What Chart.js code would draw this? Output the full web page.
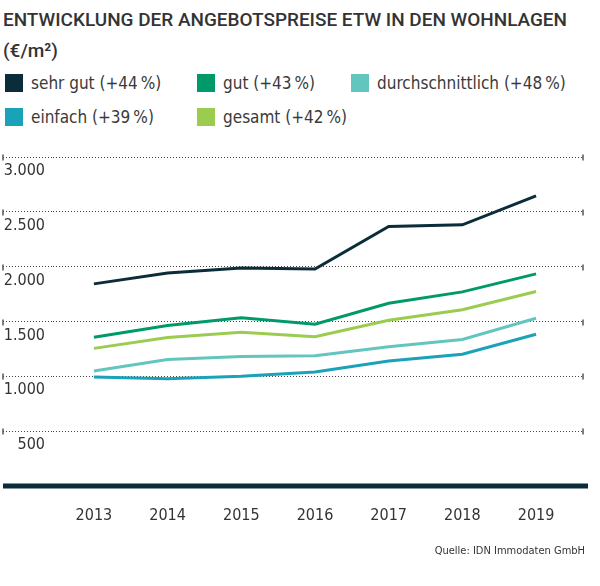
<!DOCTYPE html>
<html lang="de">
<head>
    <meta charset="UTF-8">
    <title>Entwicklung der Angebotspreise ETW in den Wohnlagen</title>
    <script src="https://cdn.jsdelivr.net/npm/chart.js"></script>
    <style>
        body { margin: 0; background: #fff; font-family: "DejaVu Sans Condensed", "DejaVu Sans", sans-serif; color: #333; }
        #wrap { position: relative; width: 600px; height: 586px; overflow: hidden; }
        #myChart { position: absolute; left: 0; top: 0; }
        h1, .unit { position: absolute; left: 3px; margin: 0; font-family: Roboto, "DejaVu Sans", sans-serif; font-size: 19px; font-weight: 500; white-space: nowrap; color: #333; transform-origin: left top; }
        h1 { top: 8px; }
        .unit { top: 39px; }
        .item { position: absolute; font-size: 17px; font-weight: normal; white-space: nowrap; line-height: 20px; color: #3a3a3a; }
        .item span { display: inline-block; width: 18px; height: 18px; vertical-align: -3px; margin-right: 8px; }
        .source { position: absolute; right: 15px; top: 544px; font-size: 11px; }
    </style>
</head>
<body>
<div id="wrap">
    <h1>ENTWICKLUNG DER ANGEBOTSPREISE ETW IN DEN WOHNLAGEN</h1>
    <div class="unit">(€/m²)</div>
    <div id="legend"></div>
    <canvas id="myChart" width="600" height="586"></canvas>
    <div class="source">Quelle: IDN Immodaten GmbH</div>
</div>

<script>
    // Jahre und Angebotspreise in €/m²
    const years = [2013, 2014, 2015, 2016, 2017, 2018, 2019];
    const sehrGut = [1843, 1943, 1988, 1979, 2366, 2382, 2645];
    const gut = [1357, 1464, 1534, 1475, 1667, 1770, 1934];
    const durchschnittlich = [1048, 1153, 1181, 1188, 1270, 1336, 1530];
    const einfach = [994, 979, 1001, 1039, 1140, 1202, 1384];
    const gesamt = [1255, 1354, 1402, 1361, 1511, 1608, 1774];

    const seriesNames = ['sehr gut', 'gut', 'durchschnittlich', 'einfach', 'gesamt'];
    const seriesChanges = ['+44 %', '+43 %', '+48 %', '+39 %', '+42 %'];
    const seriesValues = [sehrGut, gut, durchschnittlich, einfach, gesamt];
    const seriesColors = ['#0b2d3a', '#00996a', '#62c6bf', '#1aa3b8', '#9bcc50'];

    const yTicks = [0, 500, 1000, 1500, 2000, 2500, 3000];

    // Titel auf die Breite des Originals bringen
    const title = document.querySelector('h1');
    title.style.transform = 'scaleX(' + (564 / title.getBoundingClientRect().width) + ')';

    // Legende
    const legendPos = [[5, 73], [197, 73], [351, 73], [5, 107], [197, 107]];
    const legend = document.getElementById('legend');
    seriesNames.forEach((name, i) => {
        const div = document.createElement('div');
        div.className = 'item';
        div.style.left = legendPos[i][0] + 'px';
        div.style.top = legendPos[i][1] + 'px';
        div.innerHTML = '<span style="background:' + seriesColors[i] + '"></span>' +
            name + ' (' + seriesChanges[i].replace(' ', '\u2009') + ')';
        legend.appendChild(div);
    });

    function formatDe(v) {
        return String(v).replace(/\B(?=(\d{3})+(?!\d))/g, '.');
    }

    // Endstriche der Gitterlinien und dicke Grundlinie
    const decorations = {
        id: 'decorations',
        afterDraw(chart) {
            const ctx = chart.ctx;
            const yScale = chart.scales.y;
            ctx.save();
            ctx.strokeStyle = '#555';
            ctx.lineWidth = 1.5;
            yTicks.forEach(t => {
                if (t === 0) return;
                const y = Math.round(yScale.getPixelForValue(t)) + 0.5;
                [3, chart.chartArea.right].forEach(x => {
                    ctx.beginPath();
                    ctx.moveTo(x, y - 3);
                    ctx.lineTo(x, y + 3);
                    ctx.stroke();
                });
            });
            const y0 = yScale.getPixelForValue(0);
            ctx.strokeStyle = '#0b2d3a';
            ctx.lineWidth = 5;
            ctx.beginPath();
            ctx.moveTo(3, y0);
            ctx.lineTo(588, y0);
            ctx.stroke();
            ctx.restore();
        }
    };

    const axisFont = { family: '"DejaVu Sans Condensed", "DejaVu Sans", sans-serif', size: 16 };

    const ctx = document.getElementById('myChart').getContext('2d');
    const myChart = new Chart(ctx, {
        type: 'line',
        data: {
            datasets: seriesNames.map((name, i) => ({
                label: name,
                data: years.map((yr, j) => ({ x: yr, y: seriesValues[i][j] })),
                borderColor: seriesColors[i],
                backgroundColor: seriesColors[i],
                borderWidth: 3,
                pointRadius: 0,
                tension: 0,
                fill: false
            })).reverse()
        },
        options: {
            responsive: false,
            animation: false,
            layout: { padding: { top: 157, left: 3, right: 17, bottom: 40 } },
            plugins: {
                legend: { display: false },
                tooltip: { enabled: false }
            },
            scales: {
                x: {
                    type: 'linear',
                    min: 2012.445,
                    max: 2019.637,
                    afterFit(scale) { scale.height = 60; },
                    afterBuildTicks(scale) { scale.ticks = years.map(v => ({ value: v })); },
                    grid: { display: false, drawTicks: false },
                    border: { display: false },
                    ticks: {
                        autoSkip: false,
                        maxRotation: 0,
                        padding: 20,
                        color: '#333',
                        font: axisFont,
                        callback: v => String(v)
                    }
                },
                y: {
                    min: 0,
                    max: 3000,
                    afterFit(scale) { scale.width = 50; },
                    afterBuildTicks(scale) { scale.ticks = yTicks.map(v => ({ value: v })); },
                    border: { display: false, dash: [1, 2] },
                    grid: {
                        color: c => (c.tick && c.tick.value === 0) ? 'rgba(0,0,0,0)' : '#444',
                        tickColor: c => (c.tick && c.tick.value === 0) ? 'rgba(0,0,0,0)' : '#444',
                        lineWidth: 1,
                        tickBorderDash: [1, 2],
                        tickLength: 50
                    },
                    ticks: {
                        padding: -42,
                        labelOffset: 14,
                        color: '#333',
                        font: axisFont,
                        callback: v => v === 0 ? '' : formatDe(v)
                    }
                }
            }
        },
        plugins: [decorations]
    });
</script>
</body>
</html>
